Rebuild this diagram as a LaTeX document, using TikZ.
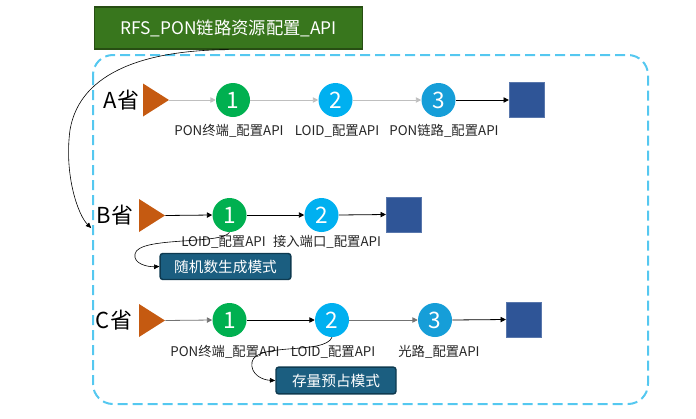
\documentclass[tikz,border=0pt]{standalone}
\usepackage{fontspec}
\setmainfont{Noto Sans CJK SC}
\usetikzlibrary{arrows.meta}
\definecolor{titlegreen}{HTML}{38761D}
\definecolor{titleborder}{HTML}{274E13}
\definecolor{cgreen}{HTML}{00B050}
\definecolor{ccyan}{HTML}{00B0F0}
\definecolor{cblue}{HTML}{169ED8}
\definecolor{triorange}{HTML}{C55A11}
\definecolor{sqblue}{HTML}{2F5597}
\definecolor{modefill}{HTML}{1B5E80}
\definecolor{modeborder}{HTML}{0E3A50}
\definecolor{dashblue}{HTML}{55C8F0}
\definecolor{lgray}{HTML}{BFBFBF}
\begin{document}
\begin{tikzpicture}[x=0.75pt,y=-0.75pt,
  stepnum/.style={circle,inner sep=0pt,minimum size=25.5pt,text=white,font=\fontsize{17}{17}\selectfont},
  tri/.style={inner sep=0pt,minimum width=19.5pt,minimum height=24.75pt,
    path picture={\fill[triorange] (path picture bounding box.north west) -- (path picture bounding box.east) -- (path picture bounding box.south west) -- cycle;}},
  endsq/.style={fill=sqblue,draw=sqblue!80!white,line width=0.4pt,inner sep=0pt,minimum size=26pt},
  prov/.style={font=\fontsize{16.5}{16.5}\selectfont,inner sep=0pt},
  lab/.style={font=\fontsize{10}{10}\selectfont,inner sep=0pt,text=black!85},
  modebox/.style={fill=modefill,draw=modeborder,line width=1.1pt,rounded corners=2pt,text=white,inner sep=0pt,font=\fontsize{11}{11}\selectfont},
  conn/.style={-{Triangle[length=4pt,width=4pt]},line width=0.6pt,black},
  gconn/.style={conn,draw=lgray},
  curv/.style={-{Triangle[length=4pt,width=3.5pt]},line width=0.45pt,black}
]
\useasboundingbox (0,0) rectangle (696,418);
% title
\node[fill=titlegreen,draw=titleborder,line width=1pt,minimum width=201pt,minimum height=31.5pt,inner sep=0pt,text=white,font=\fontsize{13}{13}\selectfont] (title) at (228.5,28) {RFS\_PON链路资源配置\_API};
% dashed frame
\draw[dashblue,line width=1.5pt,dash pattern=on 7.5pt off 3.75pt,rounded corners=15pt] (93,55) rectangle (648,404);
% Row A
\node[prov] (Alab) at (121.5,100) {A省};
\node[tri] (At) at (156,100) {};
\node[stepnum,fill=cgreen] (A1) at (233,100) {1};
\node[stepnum,fill=ccyan] (A2) at (335.5,100) {2};
\node[stepnum,fill=cblue] (A3) at (438.5,100) {3};
\node[endsq] (Asq) at (526.5,100) {};
\node[lab] (LA1) at (229,131) {PON终端\_配置API};
\node[lab] (LA2) at (337,131) {LOID\_配置API};
\node[lab] (LA3) at (444,131) {PON链路\_配置API};
\draw[gconn] (At.east) -- (A1.west);
\draw[gconn] (A1.east) -- (A2.west);
\draw[gconn] (A2.east) -- (A3.west);
\draw[conn] (A3.east) -- (Asq.west);
% Row B
\node[prov] (Blab) at (115,215) {B省};
\node[tri] (Bt) at (152,215.5) {};
\node[stepnum,fill=cgreen] (B1) at (229.5,215) {1};
\node[stepnum,fill=ccyan] (B2) at (321.5,215) {2};
\node[endsq] (Bsq) at (403.5,214.5) {};
\node[lab] (LB1) at (223.5,242) {LOID\_配置API};
\node[lab] (LB2) at (327,242) {接入端口\_配置API};
\node[modebox,minimum width=98pt,minimum height=19.5pt] (modeB) at (225.5,266.5) {随机数生成模式};
\draw[conn] (Bt.east) -- (B1.west);
\draw[conn] (B1.east) -- (B2.west);
\draw[conn] (B2.east) -- (Bsq.west);
% Row C
\node[prov] (Clab) at (114,320) {C省};
\node[tri] (Ct) at (152,320.5) {};
\node[stepnum,fill=cgreen] (C1) at (229.5,320) {1};
\node[stepnum,fill=ccyan] (C2) at (332,320) {2};
\node[stepnum,fill=cblue] (C3) at (435,320) {3};
\node[endsq] (Csq) at (523.5,319.5) {};
\node[lab] (LC1) at (225,352) {PON终端\_配置API};
\node[lab] (LC2) at (333,352) {LOID\_配置API};
\node[lab] (LC3) at (439,352) {光路\_配置API};
\node[modebox,minimum width=90pt,minimum height=20pt] (modeC) at (336,380.5) {存量预占模式};
\draw[conn,draw=black!55] (Ct.east) -- (C1.west);
\draw[conn] (C1.east) -- (C2.west);
\draw[conn,draw=black!55] (C2.east) -- (C3.west);
\draw[conn] (C3.east) -- (Csq.west);
% curved connectors
\draw[curv] (title.south) .. controls (150,50) and (80,70) .. (70,130) .. controls (64,175) and (78,215) .. ([xshift=-4pt,yshift=-2pt]Blab.south west);
\draw[curv] (B1.south) .. controls (222,245) and (138,236) .. (135,254) .. controls (133,264) and (148,267) .. (modeB.west);
\draw[curv] (C2.south) .. controls (325,355) and (256,342) .. (252,362) .. controls (250,374) and (262,380) .. (modeC.west);
\end{tikzpicture}
\end{document}
